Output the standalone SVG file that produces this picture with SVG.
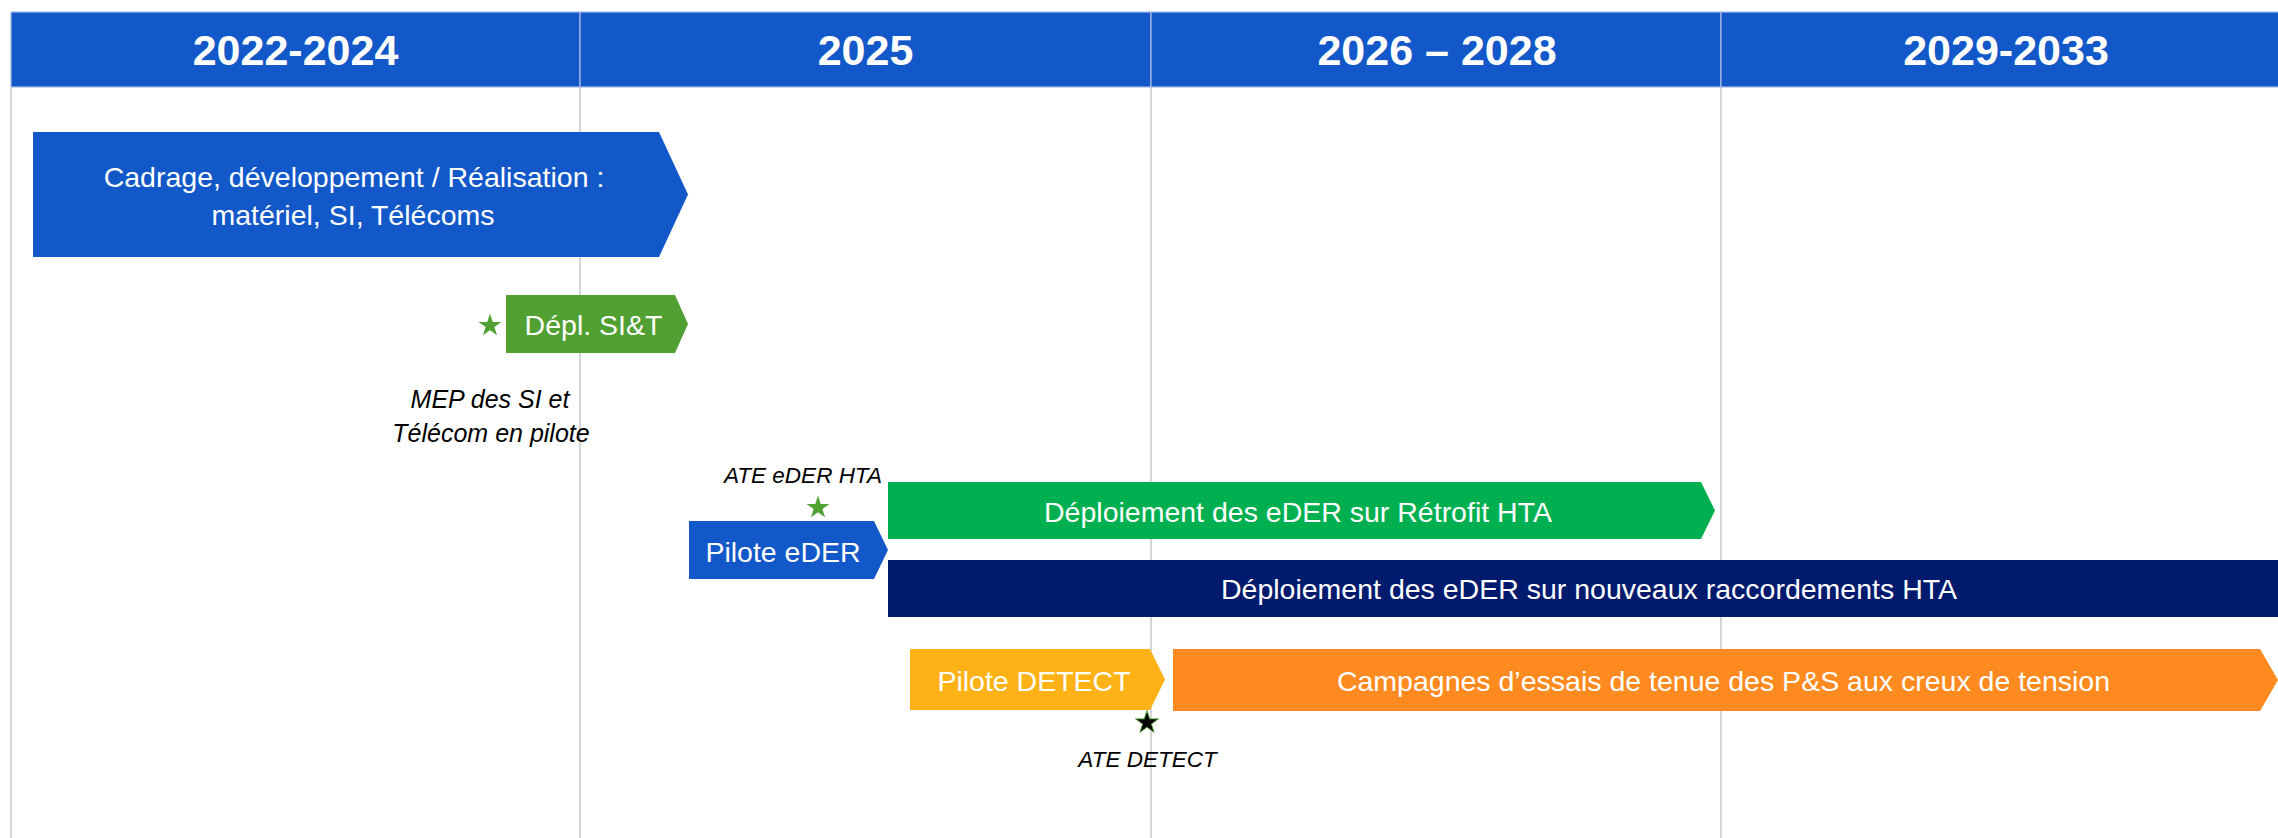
<svg xmlns="http://www.w3.org/2000/svg" width="2278" height="838" viewBox="0 0 2278 838">
  <style>
    .hdr { fill: #1258c8; stroke: #a9bde6; stroke-width: 1.2; }
    .hdrtxt { font-family: "Liberation Sans", Arial, sans-serif; font-weight: bold; font-size: 43px; fill: #ffffff; text-anchor: middle; }
    .grid { stroke: #c8c8c8; stroke-width: 1.5; fill: none; }
    .lbl { font-family: "Liberation Sans", Arial, sans-serif; font-size: 28.5px; fill: #ffffff; text-anchor: middle; }
    .note { font-family: "Liberation Sans", Arial, sans-serif; font-style: italic; fill: #000000; text-anchor: middle; }
  </style>
  <defs>
    <path id="star" d="M0,-12 L2.70,-3.72 L11.41,-3.71 L4.37,1.42 L7.05,9.71 L0,4.6 L-7.05,9.71 L-4.37,1.42 L-11.41,-3.71 L-2.70,-3.72 Z"/>
  </defs>
  <rect x="0" y="0" width="2278" height="838" fill="#ffffff"/>

  <g id="grid">
    <line class="grid" x1="11" y1="87" x2="11" y2="838"/>
    <line class="grid" x1="580" y1="87" x2="580" y2="838"/>
    <line class="grid" x1="1151" y1="87" x2="1151" y2="838"/>
    <line class="grid" x1="1721" y1="87" x2="1721" y2="838"/>
  </g>

  <g id="header">
    <rect class="hdr" x="11" y="12" width="569" height="75"/>
    <rect class="hdr" x="580" y="12" width="571" height="75"/>
    <rect class="hdr" x="1151" y="12" width="570" height="75"/>
    <rect class="hdr" x="1721" y="12" width="580" height="75"/>
    <text class="hdrtxt" x="295.5" y="65">2022-2024</text>
    <text class="hdrtxt" x="865.5" y="65">2025</text>
    <text class="hdrtxt" x="1437" y="65">2026 – 2028</text>
    <text class="hdrtxt" x="2006" y="65">2029-2033</text>
  </g>

  <g id="connectors"></g>

  <g id="cadrage">
    <path d="M33,132 H659 L688,194.5 L659,257 H33 Z" fill="#1258c8"/>
    <text class="lbl" x="354" y="187" font-size="29.7">Cadrage, développement / Réalisation :</text>
    <text class="lbl" x="353" y="225" font-size="29.7">matériel, SI, Télécoms</text>
  </g>

  <g id="depl-sit">
    <path d="M506,295 H675 L688,324 L675,353 H506 Z" fill="#50a032"/>
    <text class="lbl" x="593.5" y="335" font-size="28">Dépl. SI&amp;T</text>
  </g>

  <g id="star-mep">
    <use href="#star" transform="translate(490,325.6)" fill="#50a032"/>
    <text class="note" x="490" y="408" font-size="25">MEP des SI et</text>
    <text class="note" x="491" y="442" font-size="25">Télécom en pilote</text>
  </g>

  <g id="star-ate-eder">
    <text class="note" x="803" y="483" font-size="22.5">ATE eDER HTA</text>
    <use href="#star" transform="translate(818,507.6)" fill="#50a032"/>
  </g>

  <g id="retrofit">
    <path d="M888,482 H1701 L1715,510.5 L1701,539 H888 Z" fill="#00b050"/>
    <text class="lbl" x="1298" y="522">Déploiement des eDER sur Rétrofit HTA</text>
  </g>

  <g id="pilote-eder">
    <path d="M689,521 H874 L888,550 L874,579 H689 Z" fill="#1258c8"/>
    <text class="lbl" x="783" y="562" font-size="27.5">Pilote eDER</text>
  </g>

  <g id="nouveaux">
    <rect x="888" y="560" width="1400" height="57" fill="#001a6e"/>
    <text class="lbl" x="1589" y="599">Déploiement des eDER sur nouveaux raccordements HTA</text>
  </g>

  <g id="pilote-detect">
    <path d="M910,649 H1150 L1165,679.5 L1150,710 H910 Z" fill="#ffb215"/>
    <text class="lbl" x="1034" y="691" font-size="26.5">Pilote DETECT</text>
  </g>

  <g id="campagnes">
    <path d="M1173,649 H2260 L2278,680 L2260,711 H1173 Z" fill="#ff8a20"/>
    <text class="lbl" x="1723.5" y="691">Campagnes d’essais de tenue des P&amp;S aux creux de tension</text>
  </g>

  <g id="star-ate-detect">
    <use href="#star" transform="translate(1147,722.6)" fill="#000000" stroke="#50a032" stroke-width="1"/>
    <text class="note" x="1147.5" y="767" font-size="22.5">ATE DETECT</text>
  </g>
</svg>
